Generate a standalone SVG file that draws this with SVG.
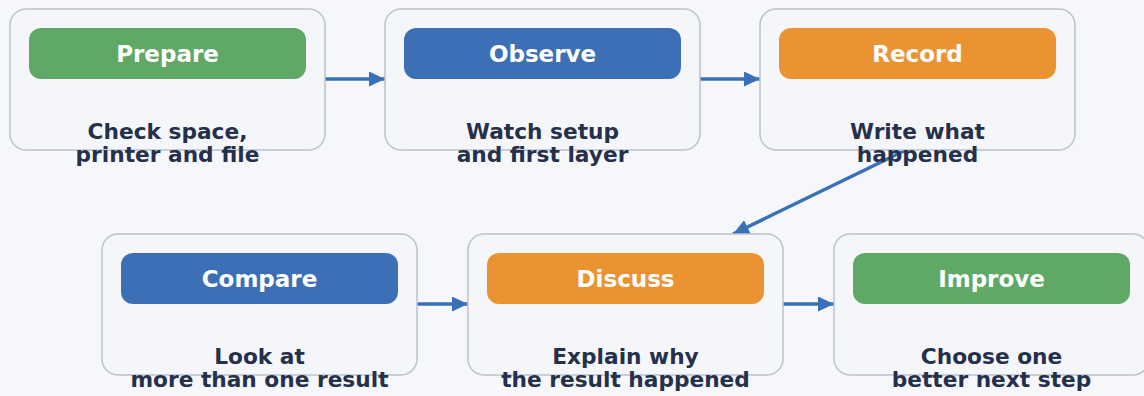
<svg xmlns="http://www.w3.org/2000/svg" width="1144" height="396" viewBox="0 0 1144 396">
<style>
.box{fill:#f5f6fa;stroke:#bcc2cc;stroke-width:1.5}
.bar-g{fill:#5fa866}
.bar-b{fill:#3d6fb6}
.bar-o{fill:#eb9332}
.title{font-family:"DejaVu Sans",sans-serif;font-weight:bold;font-size:23px;fill:#ffffff;text-anchor:middle}
.desc{font-family:"DejaVu Sans",sans-serif;font-weight:bold;font-size:21.7px;fill:#25304a;text-anchor:middle}
.conn{stroke:#3a70b8;stroke-width:3.5;fill:none;marker-end:url(#ah)}
</style>
<defs>
<marker id="ah" markerUnits="userSpaceOnUse" markerWidth="17" markerHeight="16" refX="16" refY="7.5" orient="auto">
<path d="M0,0 L16,7.5 L0,15 Z" fill="#3a70b8"/>
</marker>
</defs>
<rect width="1144" height="396" fill="#f6f7fb"/>
<g id="connectors">
<line class="conn" x1="325" y1="79" x2="385" y2="79"/>
<line class="conn" x1="700" y1="79" x2="760" y2="79"/>
<line class="conn" x1="908" y1="149" x2="733" y2="234"/>
<line class="conn" x1="417" y1="304" x2="468" y2="304"/>
<line class="conn" x1="783" y1="304" x2="834" y2="304"/>
</g>
<g id="prepare">
<rect class="box" x="10" y="9" width="315" height="141" rx="16"/>
<rect class="bar-g" x="29" y="28" width="277" height="51" rx="12"/>
<text class="title" x="167.5" y="62">Prepare</text>
<text class="desc" x="167.5" y="139">Check space,</text>
<text class="desc" x="167.5" y="162">printer and file</text>
</g>
<g id="observe">
<rect class="box" x="385" y="9" width="315" height="141" rx="16"/>
<rect class="bar-b" x="404" y="28" width="277" height="51" rx="12"/>
<text class="title" x="542.5" y="62">Observe</text>
<text class="desc" x="542.5" y="139">Watch setup</text>
<text class="desc" x="542.5" y="162">and first layer</text>
</g>
<g id="record">
<rect class="box" x="760" y="9" width="315" height="141" rx="16"/>
<rect class="bar-o" x="779" y="28" width="277" height="51" rx="12"/>
<text class="title" x="917.5" y="62">Record</text>
<text class="desc" x="917.5" y="139">Write what</text>
<text class="desc" x="917.5" y="162">happened</text>
</g>
<g id="compare">
<rect class="box" x="102" y="234" width="315" height="141" rx="16"/>
<rect class="bar-b" x="121" y="253" width="277" height="51" rx="12"/>
<text class="title" x="259.5" y="287">Compare</text>
<text class="desc" x="259.5" y="364">Look at</text>
<text class="desc" x="259.5" y="387">more than one result</text>
</g>
<g id="discuss">
<rect class="box" x="468" y="234" width="315" height="141" rx="16"/>
<rect class="bar-o" x="487" y="253" width="277" height="51" rx="12"/>
<text class="title" x="625.5" y="287">Discuss</text>
<text class="desc" x="625.5" y="364">Explain why</text>
<text class="desc" x="625.5" y="387">the result happened</text>
</g>
<g id="improve">
<rect class="box" x="834" y="234" width="315" height="141" rx="16"/>
<rect class="bar-g" x="853" y="253" width="277" height="51" rx="12"/>
<text class="title" x="991.5" y="287">Improve</text>
<text class="desc" x="991.5" y="364">Choose one</text>
<text class="desc" x="991.5" y="387">better next step</text>
</g>
</svg>
